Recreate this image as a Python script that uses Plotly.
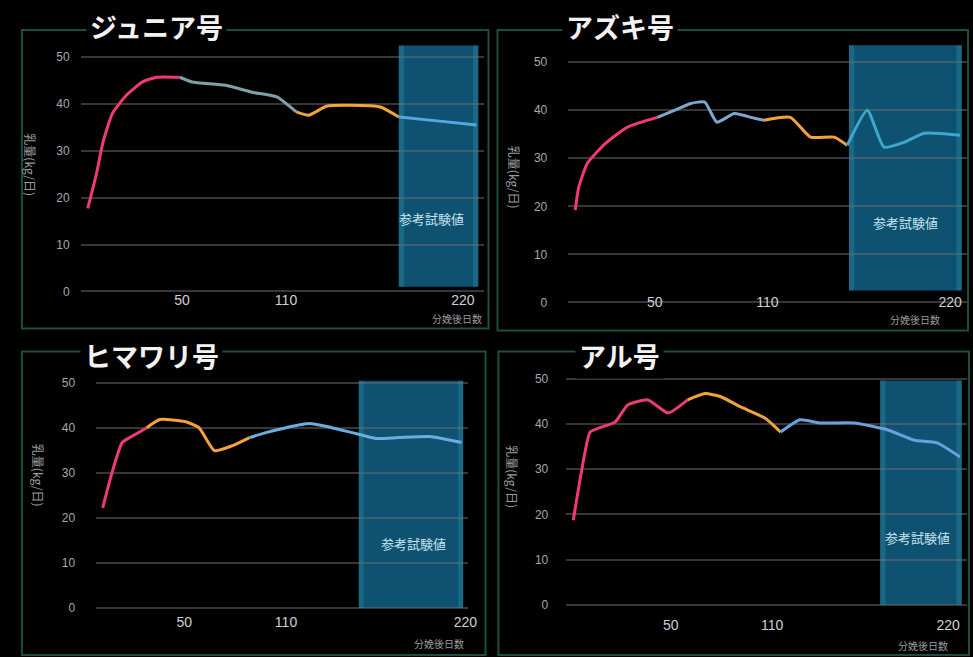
import plotly.graph_objects as go

# ---------------- data ----------------
titles = ["ジュニア号", "アズキ号", "ヒマワリ号", "アル号"]
y_ticks = [0, 10, 20, 30, 40, 50]
x_ticks = [50, 110, 220]
x_tick_labels = ["50", "110", "220"]
x_label = "分娩後日数"
y_label = "乳量(kg/日)"
band_label = "参考試験値"

days_1 = [0, 5, 8.5, 14, 22, 31, 39, 52, 59, 78, 93, 107, 118, 125, 135, 148, 166, 176, 195, 220]
milk_1 = [17.7, 25.2, 31.6, 38, 41.9, 44.7, 45.7, 45.7, 44.7, 44, 42.5, 41.5, 38.3, 37.6, 39.5, 39.7, 39.3, 37.2, 36.5, 35.5]
breaks_1 = [0, 52, 118, 176, 220]
band_1 = [176, 221, 1.0, 52.5]

days_2 = [0, 2, 7, 17, 30, 47, 57, 66, 74, 81, 91, 102.5, 108, 123, 134.5, 148, 155.5, 167, 176.5, 188, 199.5, 220]
milk_2 = [19.2, 24, 29, 33, 36.5, 38.5, 40, 41.4, 41.7, 37.5, 39.3, 38.3, 37.9, 38.5, 34.4, 34.4, 32.7, 40, 32.3, 33.3, 35.2, 34.8]
breaks_2 = [0, 47, 108, 155.5, 220]
band_2 = [156.5, 221, 2.5, 53.5]

days_3 = [0, 6, 12, 21, 27, 35, 51, 59, 68.5, 79.5, 90, 100, 112.5, 126.5, 140.5, 153, 167.5, 181.5, 201.7, 220]
milk_3 = [22.2, 30.4, 36.7, 38.7, 40, 41.8, 41.3, 40, 34.9, 36, 37.8, 38.9, 40, 40.9, 40, 38.9, 37.6, 37.8, 38, 36.7]
breaks_3 = [0, 27, 90, 220]
band_3 = [157, 221, 0, 50.4]

days_4 = [0, 4.5, 9.6, 16, 23.8, 31, 42.5, 54, 65, 75, 84, 95, 109, 118, 129, 140.6, 160, 178.6, 194, 207, 220]
milk_4 = [18.7, 29.1, 38.2, 39.3, 40.4, 44.2, 45.3, 42.4, 45.3, 46.7, 46, 43.8, 41.3, 38.2, 40.9, 40.2, 40.2, 38.7, 36.4, 35.8, 32.7]
breaks_4 = [0, 65, 118, 220]
band_4 = [174.6, 221, 0, 49.6]

# label anchors (data units) for band text
band_text_pos = [(194.6, 15.6), (188.7, 16.7), (190.7, 14.2), (195.6, 14.8)]

# ---------------- styles ----------------
PINK = "#ef3a72"
ORANGE = "#f4a23a"
BLUE = "#55a8dc"
seg_colors = [
    [PINK, "#7f9fac", ORANGE, BLUE],
    [PINK, "#7ea7cf", ORANGE, "#3fa6cc"],
    [PINK, ORANGE, "#6aaee0"],
    [PINK, ORANGE, "#6a9fe0"],
]
# tick label nudges: no-break spaces (+ leading / - trailing) and whole-axis pixel shift
tick_nudge = [[3, 2, -7], [0, 4, -1], [0, 2, 2], [9, 7, -2]]
axis_label_shift = [0, -8, 0, -8]


def nudge(label, k):
    return "\u00a0" * k + label if k > 0 else label + "\u00a0" * (-k)


# positions are designed on the 973x657 reference grid and expressed as paper fractions
REF_W, REF_H = 973, 657
W, H = 988, 663


def fx(px):
    return px / REF_W


def fy(py):
    return 1 - py / REF_H


# plot areas in reference pixels: (left, right, top, bottom) for range x[-4,224], y[-0.5,54]
areas_px = [(80.9, 485.1, 38.3, 293.3), (570.0, 970.0, 42.8, 304.4),
            (96.5, 469.5, 364.0, 609.3), (568.0, 970.0, 360.0, 606.3)]
x_axis_py = [290, 292, 611, 614]
y_standoff = [10, 20, 20, 17]

panels = [
    (days_1, milk_1, breaks_1, band_1),
    (days_2, milk_2, breaks_2, band_2),
    (days_3, milk_3, breaks_3, band_3),
    (days_4, milk_4, breaks_4, band_4),
]

fig = go.Figure()
shapes = []
annotations = []

for i, (days, milk, breaks, band) in enumerate(panels):
    n = "" if i == 0 else str(i + 1)
    xa, ya = "x" + n, "y" + n
    l, r, t, b = areas_px[i]
    # band
    shapes.append(dict(type="rect", xref=xa, yref=ya, x0=band[0], x1=band[1], y0=band[2], y1=band[3],
                       fillcolor="rgba(16,88,122,0.92)", line=dict(width=0), layer="below"))
    shapes.append(dict(type="rect", xref=xa, yref=ya, x0=band[0], x1=band[0] + 3, y0=band[2], y1=band[3],
                       fillcolor="rgba(50,150,175,0.35)", line=dict(width=0), layer="below"))
    shapes.append(dict(type="rect", xref=xa, yref=ya, x0=band[1] - 3, x1=band[1], y0=band[2], y1=band[3],
                       fillcolor="rgba(50,150,175,0.35)", line=dict(width=0), layer="below"))
    # line segments
    for k, (a, bb) in enumerate(zip(breaks[:-1], breaks[1:])):
        xs = [d for d in days if a <= d <= bb]
        ys = [v for d, v in zip(days, milk) if a <= d <= bb]
        fig.add_trace(go.Scatter(x=xs, y=ys, mode="lines", xaxis=xa, yaxis=ya,
                                 line=dict(color=seg_colors[i][k], width=3, shape="spline", smoothing=0.5),
                                 hoverinfo="skip", showlegend=False))
    # band text
    tx, ty = band_text_pos[i]
    annotations.append(dict(x=tx, y=ty, xref=xa, yref=ya, text=band_label, showarrow=False,
                            xanchor="center", yanchor="middle",
                            font=dict(size=13, color="#c4e4ee", family="Noto Sans CJK JP")))
    # axes
    tick_text = [nudge(lab, k) for lab, k in zip(x_tick_labels, tick_nudge[i])]
    fig.layout["xaxis" + n] = dict(domain=[fx(l), fx(r)], range=[-4, 224], tickvals=x_ticks,
                                   ticktext=tick_text, ticklabeloverflow="allow",
                                   ticklabelshift=axis_label_shift[i],
                                   showgrid=False, zeroline=False, showline=False,
                                   anchor="free", position=fy(x_axis_py[i]),
                                   tickfont=dict(size=14, color="#d0d0d0", family="Liberation Sans"))
    fig.layout["yaxis" + n] = dict(domain=[fy(b), fy(t)], range=[-0.5, 54], tickvals=y_ticks,
                                   showgrid=True, gridcolor="rgba(110,110,110,0.5)", gridwidth=2,
                                   zeroline=False, showline=False, anchor=xa,
                                   ticklabelstandoff=y_standoff[i],
                                   tickfont=dict(size=12, color="#a8a8a8", family="Liberation Sans"))

# frames (reference px)
frames_px = [(22, 30, 490, 328), (499, 30, 971, 330), (22, 351, 487, 654), (500, 351, 972, 654)]
for (l, t, r, b) in frames_px:
    shapes.append(dict(type="rect", xref="paper", yref="paper", x0=fx(l), x1=fx(r), y0=fy(b), y1=fy(t),
                       line=dict(color="#1c4d3d", width=2), fillcolor="rgba(0,0,0,0)", layer="below"))

# titles
title_px = [(157, 26), (622, 26), (152, 355), (621, 355)]
for i, (cx, cy) in enumerate(title_px):
    annotations.append(dict(x=fx(cx), y=fy(cy), xref="paper", yref="paper", text="<b>" + titles[i] + "</b>",
                            showarrow=False, bgcolor="#000000", borderpad=3,
                            xanchor="center", yanchor="middle",
                            font=dict(size=27, color="#f2f2f2", family="Noto Sans CJK JP")))

# y-axis labels (vertical)
ylab_px = [(31, 165), (516, 177), (38, 475), (514, 476)]
for (cx, cy) in ylab_px:
    annotations.append(dict(x=fx(cx), y=fy(cy), xref="paper", yref="paper", text=y_label,
                            showarrow=False, textangle=90, xanchor="center", yanchor="middle",
                            font=dict(size=12, color="#9a9a9a", family="Noto Sans CJK JP")))

# x-axis small labels
xlab_px = [(458, 318), (918, 319), (440, 643), (926, 645)]
for (cx, cy) in xlab_px:
    annotations.append(dict(x=fx(cx), y=fy(cy), xref="paper", yref="paper", text=x_label,
                            showarrow=False, xanchor="center", yanchor="middle",
                            font=dict(size=10, color="#9a9a9a", family="Noto Sans CJK JP")))

fig.update_layout(width=W, height=H, margin=dict(l=0, r=0, t=0, b=0),
                  paper_bgcolor="#000000", plot_bgcolor="#000000",
                  shapes=shapes, annotations=annotations, showlegend=False)

fig.write_html("out.html", config={"displayModeBar": False},
               post_script="document.body.style.margin='0';document.documentElement.style.overflow='hidden';")
